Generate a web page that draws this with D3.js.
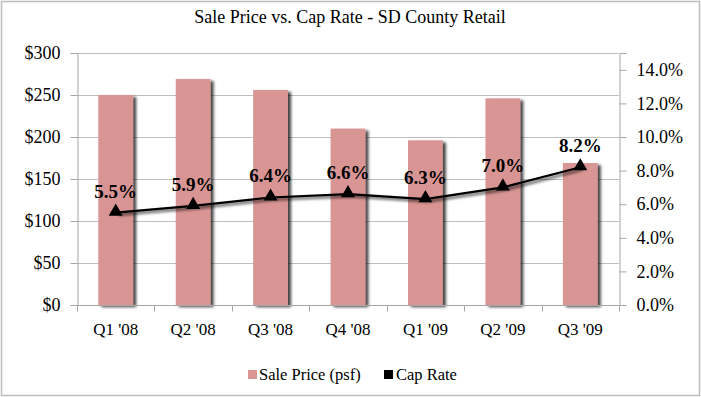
<!DOCTYPE html>
<html>
<head>
<meta charset="utf-8">
<script src="https://cdn.jsdelivr.net/npm/d3@7"></script>
<style>
  body { margin: 0; background: #fff; }
  text { font-family: Georgia, 'Liberation Serif', serif; }
</style>
</head>
<body>
<div id="chart"></div>
<script>
// data
var quarters = ["Q1 '08", "Q2 '08", "Q3 '08", "Q4 '08", "Q1 '09", "Q2 '09", "Q3 '09"];
var salePrice = [250, 269, 256, 210, 196, 246, 169];
var capRate = [5.5, 5.9, 6.4, 6.6, 6.3, 7.0, 8.2];
var priceTicks = [0, 50, 100, 150, 200, 250, 300];
var rateTicks = [0, 2, 4, 6, 8, 10, 12, 14];

var width = 701, height = 397;
var margin = {left: 77, right: 82, top: 53, bottom: 92};
var w = width - margin.left - margin.right;
var h = height - margin.top - margin.bottom;

var svg = d3.select('#chart').append('svg').attr('width', width).attr('height', height);

var defs = svg.append('defs');
var shadow = defs.append('filter').attr('id', 'shadow').attr('x', '-20%').attr('y', '-10%').attr('width', '160%').attr('height', '130%');
shadow.append('feGaussianBlur').attr('in', 'SourceAlpha').attr('stdDeviation', 1.6);
shadow.append('feOffset').attr('dx', 3).attr('dy', 2).attr('result', 'off');
shadow.append('feComponentTransfer').append('feFuncA').attr('type', 'linear').attr('slope', 0.75);
var merge = shadow.append('feMerge');
merge.append('feMergeNode');
merge.append('feMergeNode').attr('in', 'SourceGraphic');

// outer chart border
svg.append('rect').attr('x', 1.5).attr('y', 1.5).attr('width', width - 3).attr('height', height - 3)
  .attr('fill', 'none').attr('stroke', '#bdbdbd').attr('stroke-width', 1.5);

svg.append('text').attr('x', 350).attr('y', 23).attr('text-anchor', 'middle')
  .style('font-size', '18px').attr('fill', '#000').text('Sale Price vs. Cap Rate - SD County Retail');

var g = svg.append('g').attr('transform', 'translate(' + margin.left + ',' + margin.top + ')');

var x = d3.scaleBand().domain(quarters).range([0, w]).paddingInner(0.55).paddingOuter(0.275);
var xb = d3.scaleBand().domain(quarters).range([0, w]);
var yL = d3.scaleLinear().domain([0, 300]).range([h, 0]);
var yR = d3.scaleLinear().domain([0, 15]).range([h, 0]);

// gridlines
g.selectAll('.grid').data(priceTicks).enter().append('line')
  .attr('x1', 0).attr('x2', w)
  .attr('y1', function(d) { return Math.round(yL(d)) + 0.5; })
  .attr('y2', function(d) { return Math.round(yL(d)) + 0.5; })
  .attr('stroke', '#bfbfbf').attr('stroke-width', 1);

// bars
g.selectAll('.bar').data(salePrice).enter().append('rect')
  .attr('x', function(d, i) { return x(quarters[i]); })
  .attr('y', function(d) { return yL(d); })
  .attr('width', x.bandwidth())
  .attr('height', function(d) { return h - yL(d); })
  .attr('fill', '#d99594')
  .attr('filter', 'url(#shadow)');

// axes
var leftAxis = d3.axisLeft(yL).tickValues(priceTicks).tickSize(7).tickPadding(10)
  .tickFormat(function(d) { return '$' + d; });
var rightAxis = d3.axisRight(yR).tickValues(rateTicks).tickSize(7).tickPadding(10)
  .tickFormat(function(d) { return d.toFixed(1) + '%'; });
var bottomAxis = d3.axisBottom(xb).tickSize(0).tickPadding(17);

function styleAxis(sel, size) {
  sel.select('.domain').attr('stroke', '#a6a6a6');
  sel.selectAll('.tick line').attr('stroke', '#a6a6a6');
  sel.selectAll('text').style('font-size', size).style('font-family', "Georgia, 'Liberation Serif', serif").attr('fill', '#000');
}

g.append('g').attr('transform', 'translate(0.5,0)').call(leftAxis).call(styleAxis, '18px');
g.append('g').attr('transform', 'translate(' + (w + 0.5) + ',0)').call(rightAxis).call(styleAxis, '18px');
var bx = g.append('g').attr('transform', 'translate(0,' + (h + 0.5) + ')').call(bottomAxis).call(styleAxis, '17px');
bx.select('.domain').remove();
bx.append('line').attr('x1', 0).attr('x2', w).attr('stroke', '#a6a6a6');
bx.selectAll('.cat-tick').data(d3.range(quarters.length + 1)).enter().append('line')
  .attr('x1', function(i) { return Math.round(i * xb.step()) + 0.5; })
  .attr('x2', function(i) { return Math.round(i * xb.step()) + 0.5; })
  .attr('y1', 0).attr('y2', 6).attr('stroke', '#a6a6a6');

// cap rate line
var cx = function(i) { return x(quarters[i]) + x.bandwidth() / 2; };
var line = d3.line().x(function(d, i) { return cx(i); }).y(function(d) { return yR(d); });
g.append('path').datum(capRate).attr('d', line)
  .attr('fill', 'none').attr('stroke', '#000').attr('stroke-width', 2.2).attr('filter', 'url(#shadow)');

g.selectAll('.marker').data(capRate).enter().append('path')
  .attr('d', d3.symbol().type(d3.symbolTriangle).size(85))
  .attr('transform', function(d, i) { return 'translate(' + cx(i) + ',' + (yR(d) - 1) + ')'; })
  .attr('fill', '#000');

g.selectAll('.lbl').data(capRate).enter().append('text')
  .attr('x', function(d, i) { return cx(i); })
  .attr('y', function(d) { return yR(d) - 15; })
  .attr('text-anchor', 'middle')
  .style('font-size', '19px').style('font-weight', 'bold').attr('fill', '#000')
  .text(function(d) { return d.toFixed(1) + '%'; });

// legend
var legend = svg.append('g').attr('transform', 'translate(248,370)');
legend.append('rect').attr('x', 0).attr('y', 0).attr('width', 9).attr('height', 9).attr('fill', '#d99594');
legend.append('text').attr('x', 11).attr('y', 10).style('font-size', '16.5px').text('Sale Price (psf)');
legend.append('rect').attr('x', 136).attr('y', 0).attr('width', 9).attr('height', 9).attr('fill', '#000');
legend.append('text').attr('x', 148).attr('y', 10).style('font-size', '16.5px').text('Cap Rate');
</script>
</body>
</html>
